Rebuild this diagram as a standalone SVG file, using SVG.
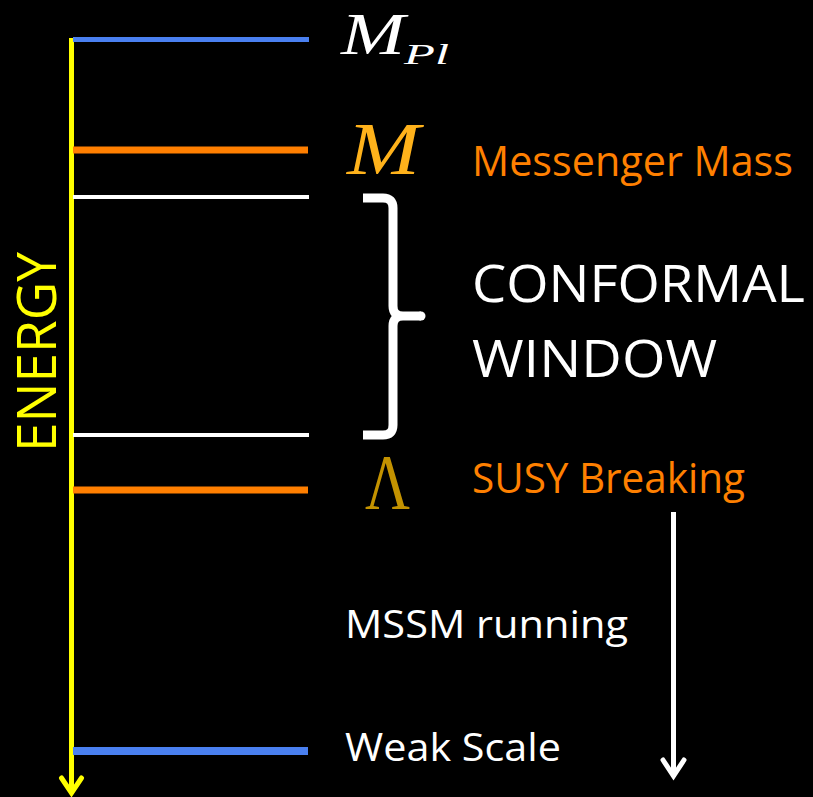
<svg xmlns="http://www.w3.org/2000/svg" width="813" height="797" viewBox="0 0 813 797">
  <defs>
    <style>
      .lbl { font-family: "Open Sans", "Liberation Sans", sans-serif; }
      .math { font-family: "Liberation Serif", "DejaVu Serif", serif; }
      .orange { fill: #FF8000; }
      .white { fill: #FFFFFF; }
      .lvl { stroke-linecap: butt; }
    </style>
  </defs>
  <rect x="0" y="0" width="813" height="797" fill="#000000"/>

  <g id="connectors" fill="none">
    <g id="energy-axis">
      <line x1="71.5" y1="38" x2="71.5" y2="794" stroke="#FFFF00" stroke-width="5"/>
      <polyline points="61.5,778 71.5,793 81.5,778" stroke="#FFFF00" stroke-width="5" stroke-linecap="round" stroke-linejoin="miter"/>
    </g>
    <g id="mssm-arrow">
      <line x1="673.5" y1="512" x2="673.5" y2="777" stroke="#FFFFFF" stroke-width="5"/>
      <polyline points="663,760 673.5,776 684,760" stroke="#FFFFFF" stroke-width="5" stroke-linecap="round"/>
    </g>
  </g>

  <g id="axis-label">
    <text class="lbl" x="0" y="0" transform="translate(56,452) rotate(-90)" font-size="55" fill="#FFFF00" textLength="200" lengthAdjust="spacingAndGlyphs">ENERGY</text>
  </g>

  <g id="planck">
    <line class="lvl" x1="73" y1="39.5" x2="309" y2="39.5" stroke="#4A80F0" stroke-width="5"/>
    <text class="math white" x="341" y="54" font-size="60" font-style="italic" textLength="64" lengthAdjust="spacingAndGlyphs">M</text>
    <text class="math white" x="404" y="64" font-size="30" font-style="italic" textLength="45" lengthAdjust="spacingAndGlyphs">Pl</text>
  </g>

  <g id="messenger">
    <line class="lvl" x1="73" y1="150" x2="308" y2="150" stroke="#FF7F00" stroke-width="7"/>
    <text class="math" x="347" y="174" font-size="74" font-style="italic" fill="#FFB21B" textLength="73" lengthAdjust="spacingAndGlyphs">M</text>
    <text class="lbl orange" x="472" y="176" font-size="42" textLength="321" lengthAdjust="spacingAndGlyphs">Messenger Mass</text>
  </g>

  <g id="window-top">
    <line class="lvl" x1="73" y1="197" x2="309" y2="197" stroke="#FFFFFF" stroke-width="4"/>
  </g>

  <g id="conformal-window">
    <path d="M363,198 H383 Q393,198 393,208 V306 Q393,316 403,316 H421 M403,316 Q393,316 393,326 V425 Q393,435 383,435 H363" fill="none" stroke="#FFFFFF" stroke-width="9"/>
    <circle cx="421" cy="316" r="4.5" fill="#FFFFFF"/>
    <text class="lbl white" x="472" y="302" font-size="51" textLength="333" lengthAdjust="spacingAndGlyphs">CONFORMAL</text>
    <text class="lbl white" x="472" y="377" font-size="51" textLength="245" lengthAdjust="spacingAndGlyphs">WINDOW</text>
  </g>

  <g id="window-bottom">
    <line class="lvl" x1="73" y1="435" x2="309" y2="435" stroke="#FFFFFF" stroke-width="4"/>
  </g>

  <g id="susy-breaking">
    <line class="lvl" x1="73" y1="490" x2="308" y2="490" stroke="#FF7F00" stroke-width="7"/>
    <text class="math" x="365" y="508" font-size="78" fill="#C39200" textLength="45" lengthAdjust="spacingAndGlyphs">Λ</text>
    <text class="lbl orange" x="472" y="493" font-size="42" textLength="273" lengthAdjust="spacingAndGlyphs">SUSY Breaking</text>
  </g>

  <g id="mssm-running">
    <text class="lbl white" x="345" y="638" font-size="38" textLength="283" lengthAdjust="spacingAndGlyphs">MSSM running</text>
  </g>

  <g id="weak-scale">
    <line class="lvl" x1="73" y1="751" x2="308" y2="751" stroke="#4A80F0" stroke-width="8"/>
    <text class="lbl white" x="345" y="761" font-size="38" textLength="216" lengthAdjust="spacingAndGlyphs">Weak Scale</text>
  </g>
</svg>
